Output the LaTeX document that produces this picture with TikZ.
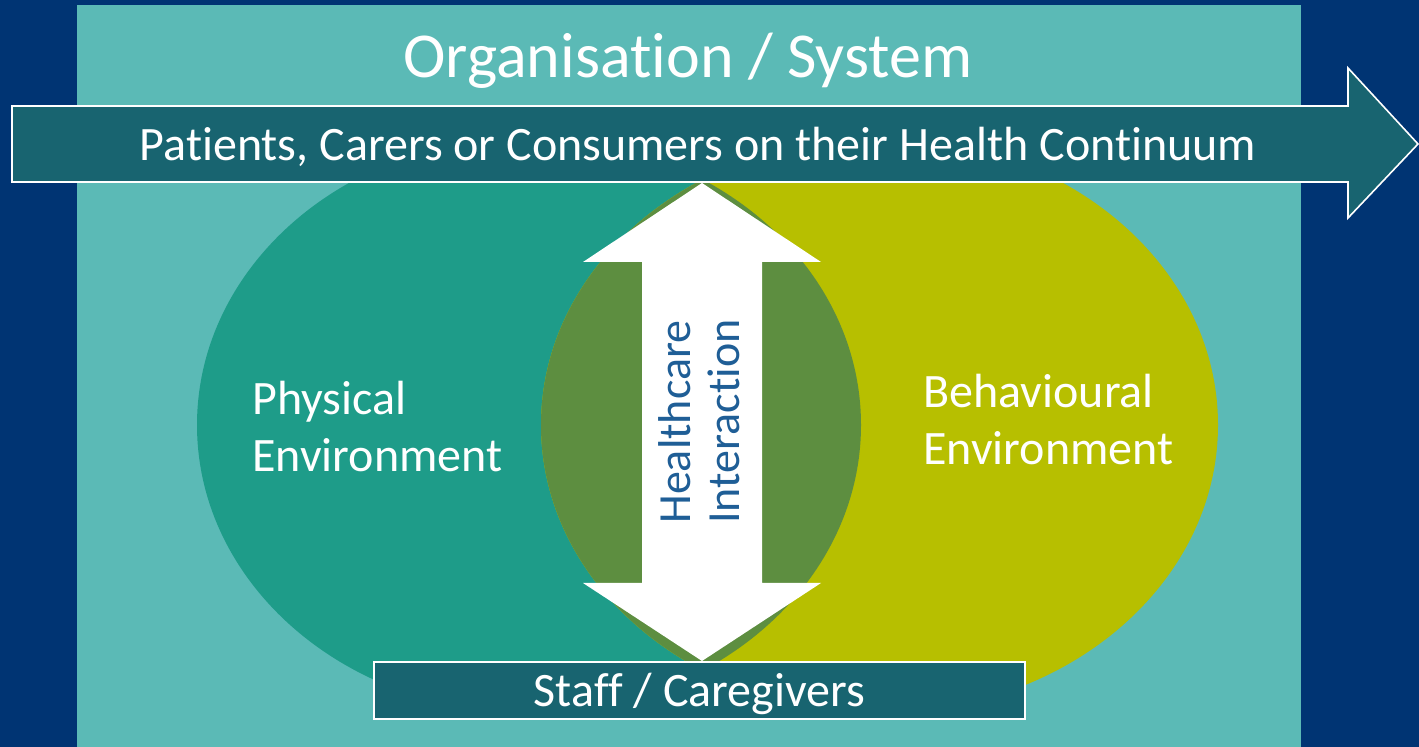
\documentclass[tikz,border=0pt]{standalone}
\usepackage{fontspec}
\setmainfont{Carlito}[Ligatures=NoCommon]
\definecolor{navy}{HTML}{003473}
\definecolor{panel}{HTML}{5BBAB6}
\definecolor{arrowfill}{HTML}{186470}
\definecolor{phys}{HTML}{1E9C89}
\definecolor{behav}{HTML}{B7BF00}
\definecolor{overlap}{HTML}{5D8E40}
\definecolor{hiblue}{HTML}{1F5E96}
\begin{document}
\begin{tikzpicture}[x=0.5pt,y=-0.5pt,
  txt/.style={text=white,inner sep=0pt},
  lbl/.style={txt,anchor=base west,font=\fontsize{24}{29}\selectfont},
  hctext/.style={anchor=base west,rotate=90,inner sep=0pt,text=hiblue,font=\fontsize{23}{28}\selectfont},
  outlined/.style={fill=arrowfill,draw=white,line width=0.8pt}]
\fill[navy] (0,0) rectangle (1419,747);
\useasboundingbox (0,0) rectangle (1419,747);
\fill[panel] (77,5) rectangle (1301,747);
% ellipses
\fill[phys] (529,425) ellipse [x radius=332, y radius=288];
\fill[behav] (879.5,425) ellipse [x radius=338.5, y radius=288];
\begin{scope}
  \clip (529,425) ellipse [x radius=332, y radius=288];
  \fill[overlap] (879.5,425) ellipse [x radius=338.5, y radius=288];
\end{scope}
% title
\node[txt,anchor=base,font=\fontsize{32}{38}\selectfont] (title) at (688,78) {Organisation / System};
% big arrow
\draw[outlined] (12,106) -- (1348,106) -- (1348,68) -- (1418,144) -- (1348,218) -- (1348,182) -- (12,182) -- cycle;
\node[txt,anchor=base,font=\fontsize{24}{29}\selectfont] (patients) at (698,161) {Patients, Carers or Consumers on their Health Continuum};
% double arrow
\fill[white] (702,183) -- (821,262) -- (762,262) -- (762,583) -- (821,583) -- (702,661) -- (583,583) -- (642,583) -- (642,262) -- (583,262) -- cycle;
\node[hctext] (hc1) at (690,524) {Healthcare};
\node[hctext] (hc2) at (739,524) {Interaction};
% labels
\node[lbl] (phys1) at (252,415) {Physical};
\node[lbl] (phys2) at (252,472) {Environment};
\node[lbl] (beh1) at (923,408) {Behavioural};
\node[lbl] (beh2) at (923,465) {Environment};
% staff box
\draw[outlined] (374,662) rectangle (1025,719);
\node[txt,anchor=base,font=\fontsize{24}{29}\selectfont] (staff) at (699.5,707) {Staff / Caregivers};
\end{tikzpicture}
\end{document}
